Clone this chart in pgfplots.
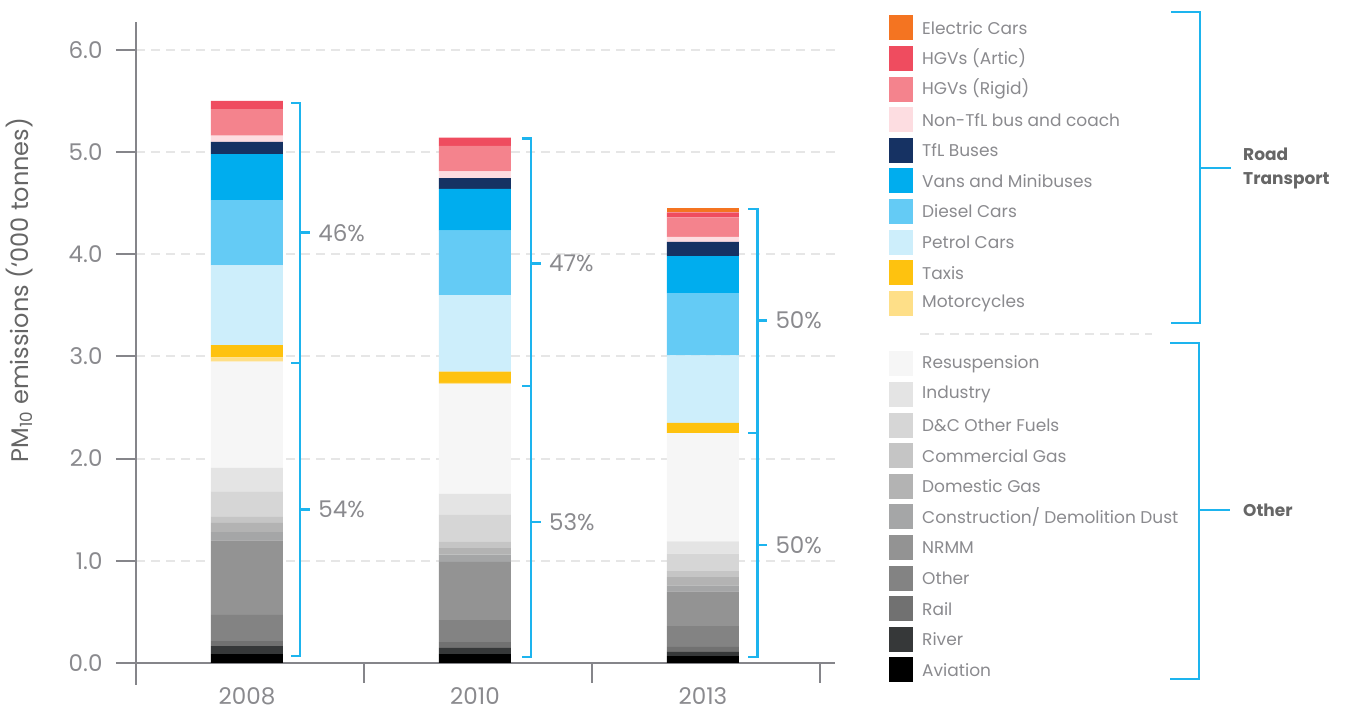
\documentclass[border=0pt]{standalone}
\usepackage{pgfplots}
\pgfplotsset{compat=1.18}
\usepackage{pgfplotstable}
\usepackage{fontspec}
\setmainfont{Poppins}
\definecolor{cElectric}{HTML}{F47421}
\definecolor{cHGVA}{HTML}{EF4C5F}
\definecolor{cHGVR}{HTML}{F4838D}
\definecolor{cNonTfL}{HTML}{FDDDE1}
\definecolor{cTfL}{HTML}{163263}
\definecolor{cVans}{HTML}{00ADEE}
\definecolor{cDiesel}{HTML}{64CBF5}
\definecolor{cPetrol}{HTML}{CDEEFB}
\definecolor{cTaxis}{HTML}{FEC20F}
\definecolor{cMoto}{HTML}{FEDF88}
\definecolor{cResusp}{HTML}{F6F6F6}
\definecolor{cIndustry}{HTML}{E4E4E4}
\definecolor{cDC}{HTML}{D6D6D6}
\definecolor{cComm}{HTML}{C5C5C5}
\definecolor{cDom}{HTML}{B3B3B3}
\definecolor{cConstr}{HTML}{A5A6A7}
\definecolor{cNRMM}{HTML}{939393}
\definecolor{cOther}{HTML}{838383}
\definecolor{cRail}{HTML}{717171}
\definecolor{cRiver}{HTML}{363839}
\definecolor{cAviation}{HTML}{000000}
\definecolor{axisgray}{HTML}{85858A}
\definecolor{gridgray}{HTML}{E6E6E6}
\definecolor{txtgray}{HTML}{8A8A8E}
\definecolor{labgray}{HTML}{666666}
\definecolor{brblue}{HTML}{1DB4EE}

\pgfplotstableread{
x Aviation River Rail Other NRMM Constr Domestic Commercial DCOther Industry Resusp Moto Taxis Petrol Diesel Vans TfL NonTfL HGVR HGVA Electric
0 0.088 0.078 0.049 0.255 0.73 0.08 0.09 0.06 0.25 0.23 1.04 0.04 0.12 0.78 0.64 0.45 0.12 0.06 0.26 0.08 0
1 0.088 0.059 0.058 0.215 0.57 0.07 0.065 0.065 0.26 0.205 1.075 0.01 0.11 0.75 0.63 0.41 0.105 0.065 0.25 0.08 0
2 0.068 0.04 0.049 0.203 0.34 0.06 0.08 0.06 0.17 0.12 1.06 0 0.10 0.66 0.61 0.36 0.14 0.05 0.19 0.05 0.04
}\data

\newcommand{\barbracket}[8]{%
  \draw[brblue, line width=2.5pt] (axis cs:#1,#2) ++(-9pt,0pt) -- (axis cs:#1,#2) -- (axis cs:#1,#4) -- ++(-9pt,0pt);
  \draw[brblue, line width=2.5pt] (axis cs:#1,#3) -- ++(-9pt,0pt);
  \draw[brblue, line width=2.5pt] (axis cs:#1,#5) -- ++(10pt,0pt) node[anchor=west, inner sep=0pt, xshift=7pt, text=txtgray, font=\fontsize{23}{27}\selectfont] {#7\%};
  \draw[brblue, line width=2.5pt] (axis cs:#1,#6) -- ++(10pt,0pt) node[anchor=west, inner sep=0pt, xshift=7pt, text=txtgray, font=\fontsize{23}{27}\selectfont] {#8\%};
}

\begin{document}
\begin{tikzpicture}[x=1pt,y=1pt]
\path[use as bounding box] (0,0) rectangle (1346,706);
\begin{axis}[
  at={(136pt,43pt)}, anchor=south west,
  scale only axis, width=699pt, height=641pt,
  xmin=-0.5, xmax=2.566, ymin=0, ymax=6.272,
  ybar stacked, bar width=72pt, bar shift=-3pt,
  axis x line=bottom, axis y line=left,
  axis line style={draw=axisgray, line width=2pt, -},
  clip=false,
  ytick={0,1,2,3,4,5,6},
  /pgf/number format/fixed, /pgf/number format/fixed zerofill,
  /pgf/number format/precision=1, /pgf/number format/assume math mode=true,
  xtick={0,1,2}, xticklabels={2008,2010,2013},
  tick align=outside, major tick length=20pt,
  tick style={draw=axisgray, line width=2pt},
  x tick style={draw=none},
  ymajorgrids,
  grid style={draw=gridgray, line width=2pt, dash pattern=on 9pt off 6pt},
  ticklabel style={font=\fontsize{23}{26}\selectfont, text=txtgray},
  yticklabel shift=10pt,
  xticklabel style={inner sep=0pt, yshift=-4pt, xshift=-3pt},
]
\addplot[fill=cAviation, draw=none] table[x=x,y=Aviation]{\data};
\addplot[fill=cRiver, draw=none] table[x=x,y=River]{\data};
\addplot[fill=cRail, draw=none] table[x=x,y=Rail]{\data};
\addplot[fill=cOther, draw=none] table[x=x,y=Other]{\data};
\addplot[fill=cNRMM, draw=none] table[x=x,y=NRMM]{\data};
\addplot[fill=cConstr, draw=none] table[x=x,y=Constr]{\data};
\addplot[fill=cDom, draw=none] table[x=x,y=Domestic]{\data};
\addplot[fill=cComm, draw=none] table[x=x,y=Commercial]{\data};
\addplot[fill=cDC, draw=none] table[x=x,y=DCOther]{\data};
\addplot[fill=cIndustry, draw=none] table[x=x,y=Industry]{\data};
\addplot[fill=cResusp, draw=none] table[x=x,y=Resusp]{\data};
\addplot[fill=cMoto, draw=none] table[x=x,y=Moto]{\data};
\addplot[fill=cTaxis, draw=none] table[x=x,y=Taxis]{\data};
\addplot[fill=cPetrol, draw=none] table[x=x,y=Petrol]{\data};
\addplot[fill=cDiesel, draw=none] table[x=x,y=Diesel]{\data};
\addplot[fill=cVans, draw=none] table[x=x,y=Vans]{\data};
\addplot[fill=cTfL, draw=none] table[x=x,y=TfL]{\data};
\addplot[fill=cNonTfL, draw=none] table[x=x,y=NonTfL]{\data};
\addplot[fill=cHGVR, draw=none] table[x=x,y=HGVR]{\data};
\addplot[fill=cHGVA, draw=none] table[x=x,y=HGVA]{\data};
\addplot[fill=cElectric, draw=none] table[x=x,y=Electric]{\data};
% axis extension and category boundary ticks
\draw[axisgray, line width=2pt] (axis cs:-0.5,0) -- ++(0pt,-22pt);
\draw[axisgray, line width=2pt] (axis cs:0.5,0) -- ++(0pt,-20pt);
\draw[axisgray, line width=2pt] (axis cs:1.5,0) -- ++(0pt,-20pt);
\draw[axisgray, line width=2pt] (axis cs:2.5,0) -- ++(0pt,-20pt);
% brackets
\barbracket{0.22}{5.48}{2.935}{0.068}{4.21}{1.50}{46}{54}
\barbracket{1.232}{5.13}{2.71}{0.06}{3.91}{1.38}{47}{53}
\barbracket{2.225}{4.44}{2.25}{0.06}{3.35}{1.155}{50}{50}
\end{axis}
% y label
\node[rotate=90, text=labgray, font=\fontsize{24}{28}\selectfont] at (20,416) {PM\textsubscript{10} emissions (‘000 tonnes)};
% legend
\foreach \c/\t [count=\i from 0] in {cElectric/{Electric Cars}, cHGVA/{HGVs (Artic)}, cHGVR/{HGVs (Rigid)}, cNonTfL/{Non-TfL bus and coach}, cTfL/{TfL Buses}, cVans/{Vans and Minibuses}, cDiesel/{Diesel Cars}, cPetrol/{Petrol Cars}, cTaxis/{Taxis}, cMoto/{Motorcycles}} {
  \pgfmathsetmacro{\yy}{706-28-30.6*\i}
  \fill[\c] (889,\yy-12.5) rectangle (913,\yy+12.5);
  \node[anchor=west, inner sep=0pt, text=txtgray, font=\fontsize{17}{20}\selectfont] at (922,\yy) {\t};
}
\foreach \c/\t [count=\i from 0] in {cResusp/{Resuspension}, cIndustry/{Industry}, cDC/{D\&C Other Fuels}, cComm/{Commercial Gas}, cDom/{Domestic Gas}, cConstr/{Construction/ Demolition Dust}, cNRMM/{NRMM}, cOther/{Other}, cRail/{Rail}, cRiver/{River}, cAviation/{Aviation}} {
  \pgfmathsetmacro{\yy}{706-364-30.6*\i}
  \fill[\c] (889,\yy-12.5) rectangle (913,\yy+12.5);
  \node[anchor=west, inner sep=0pt, text=txtgray, font=\fontsize{17}{20}\selectfont] at (922,\yy) {\t};
}
\draw[gridgray, line width=2pt, dash pattern=on 9pt off 6pt] (920,372) -- (1152,372);
% group brackets
\draw[brblue, line width=2.5pt] (1171,694) -- (1200,694) -- (1200,383) -- (1171,383);
\draw[brblue, line width=2.5pt] (1200,538) -- (1231,538);
\node[anchor=west, align=left, inner sep=0pt, text=labgray, font=\fontsize{17}{24}\selectfont\bfseries] at (1243,538) {Road\\Transport};
\draw[brblue, line width=2.5pt] (1170,363) -- (1199,363) -- (1199,27) -- (1170,27);
\draw[brblue, line width=2.5pt] (1199,196) -- (1230,196);
\node[anchor=west, inner sep=0pt, text=labgray, font=\fontsize{17}{20}\selectfont\bfseries] at (1243,196) {Other};
\end{tikzpicture}
\end{document}
